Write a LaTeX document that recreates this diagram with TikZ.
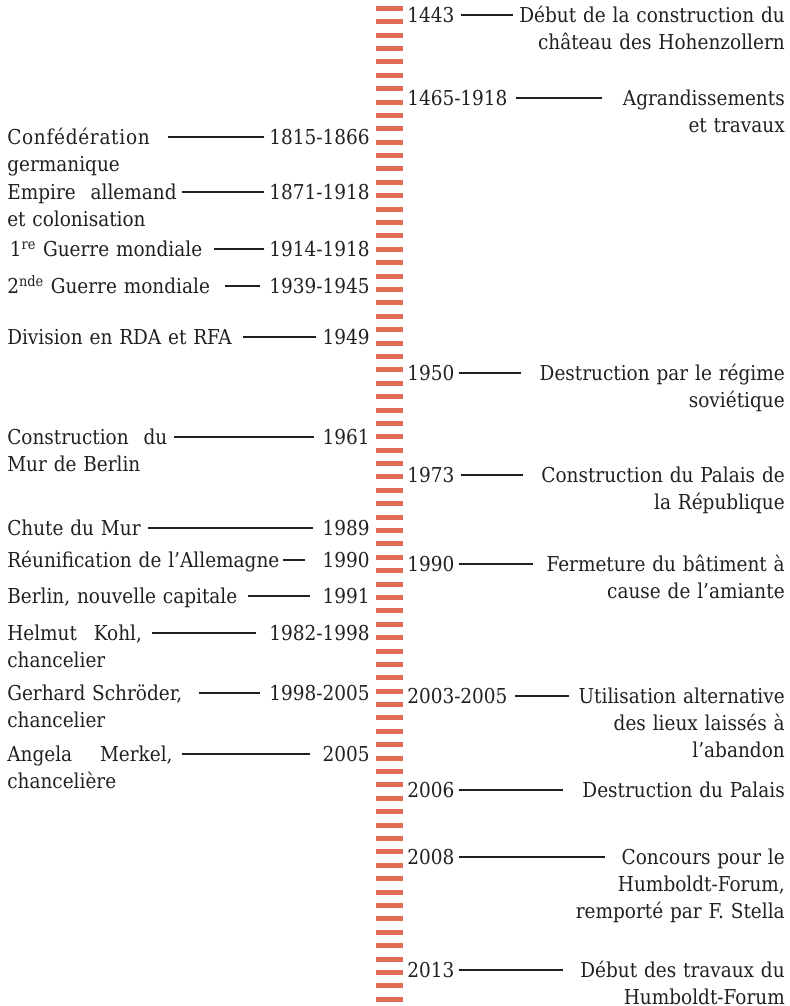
\documentclass[tikz,border=0pt]{standalone}
\usepackage{fontspec}
\setmainfont{DejaVu Serif Condensed}
\definecolor{tickred}{RGB}{224,108,86}
\definecolor{ink}{RGB}{35,31,32}
\newcommand\jline[3]{\makebox[#1][l]{#2\hfill #3}}
\tikzset{
  yearlbl/.style={inner sep=0pt,text=ink,font=\fontsize{15.4}{20.25}\selectfont},
  eventlbl/.style={inner sep=0pt,text=ink,text width=250pt,font=\fontsize{15.4}{20.25}\selectfont},
  link/.style={draw=ink,line width=1.8pt},
}
\begin{document}
\begin{tikzpicture}[x=0.75pt,y=-0.75pt]
\useasboundingbox (0,0) rectangle (789,1006);
\coordinate (lx) at (7,0);
\coordinate (rx) at (785,0);
\foreach \k in {0,...,74}
  \fill[tickred] (376,{5.8+13.39*\k}) rectangle ++(27,5);
\foreach \y/\yr/\gap/\len/\txt [count=\i] in {
  137/1815-1866/5/96/{{\addfontfeature{LetterSpace=3.5}Confédération}\\germanique},
  192/1871-1918/5/82/{\jline{127pt}{Empire}{allemand}\\et colonisation},
  249/1914-1918/5/50/{\hspace{2pt}1\textsuperscript{re} Guerre mondiale},
  286/1939-1945/9/35/{2\textsuperscript{nde} Guerre mondiale},
  337/1949/6/73/{Division en RDA et RFA},
  437/1961/8/140/{\jline{120pt}{Construction}{du}\\Mur de Berlin},
  528/1989/9/165/{Chute du Mur},
  560/1990/17/22/{Réunification de l’Allemagne},
  596/1991/12/62/{Berlin, nouvelle capitale},
  633/1982-1998/13/104/{\jline{101pt}{Helmut}{Kohl,}\\chancelier},
  693/1998-2005/9/61/{Gerhard Schröder,\\chancelier},
  754/2005/12/128/{\jline{124pt}{Angela}{Merkel,}\\chancelière}}{
  \node[yearlbl,anchor=east] (ly\i) at (370,\y) {\yr};
  \node[eventlbl,anchor=base west,align=left] (le\i) at (ly\i.base -| lx) {\txt};
  \draw[link] (ly\i.west) ++(-\gap,0) -- ++(-\len,0);
}
\foreach \y/\yr/\gap/\len/\txt [count=\i] in {
  15/1443/6/52/{Début de la construction du\\château des Hohenzollern},
  98/1465-1918/8/86/{Agrandissements\\et travaux},
  373/1950/4/62/{Destruction par le régime\\soviétique},
  475/1973/6/62/{Construction du Palais de\\la République},
  564/1990/4/74/{Fermeture du bâtiment à\\cause de l’amiante},
  696/2003-2005/7/54/{Utilisation alternative\\des lieux laissés à\\l’abandon},
  790/2006/4/104/{Destruction du Palais},
  857/2008/4/146/{Concours pour le\\Humboldt-Forum,\\remporté par F. Stella},
  970/2013/4/104/{Début des travaux du\\Humboldt-Forum}}{
  \node[yearlbl,anchor=west] (ry\i) at (407,\y) {\yr};
  \node[eventlbl,anchor=base east,align=right] (re\i) at (ry\i.base -| rx) {\txt};
  \draw[link] (ry\i.east) ++(\gap,0) -- ++(\len,0);
}
\end{tikzpicture}
\end{document}
